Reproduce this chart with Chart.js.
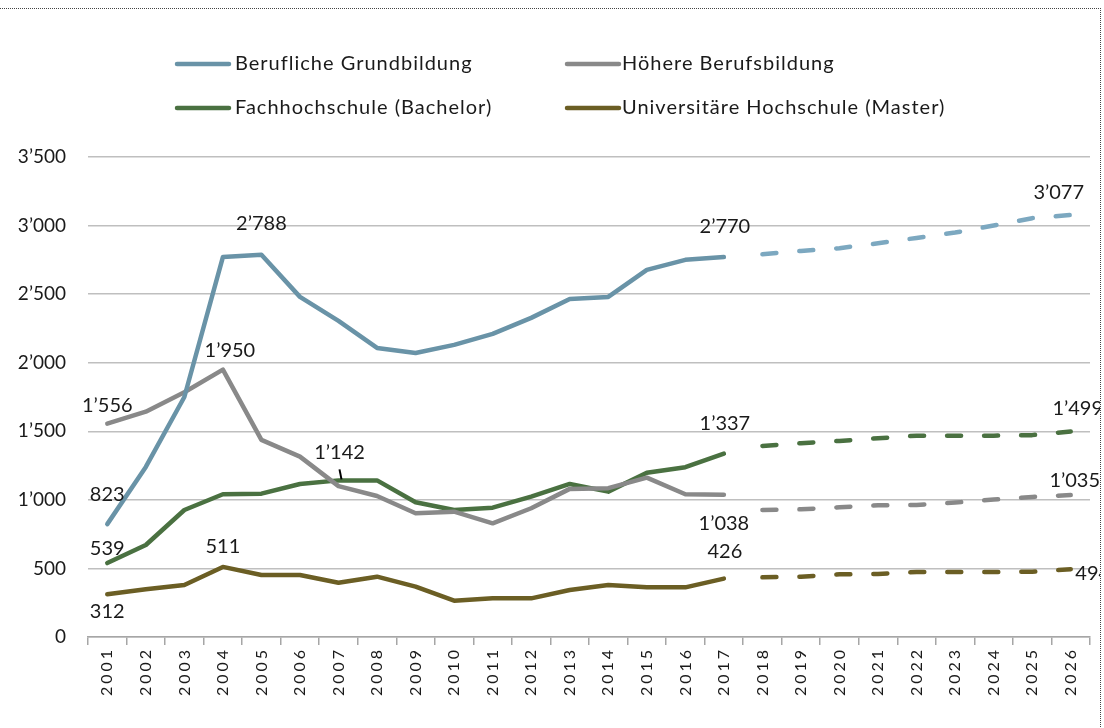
<!DOCTYPE html>
<html>
<head>
<meta charset="utf-8">
<script src="https://cdn.jsdelivr.net/npm/chart.js@4/dist/chart.umd.min.js"></script>
<style>
  html, body { margin: 0; padding: 0; background: #fff; overflow: hidden; }
  #wrap { position: absolute; left: 0; top: 0; width: 1104px; height: 728px; }
  #frame { position: absolute; left: -5px; top: 8px; width: 1105px; height: 760px;
           border-top: 1px dotted #444; border-right: 1px dotted #444; pointer-events: none; }
</style>
</head>
<body>
<div id="wrap"><canvas id="c" width="1104" height="728"></canvas></div>
<div id="frame"></div>
<script>
const years = ['2001','2002','2003','2004','2005','2006','2007','2008','2009','2010','2011','2012','2013',
               '2014','2015','2016','2017','2018','2019','2020','2021','2022','2023','2024','2025','2026'];

const seriesNames = ['Berufliche Grundbildung', 'Höhere Berufsbildung', 'Fachhochschule (Bachelor)', 'Universitäre Hochschule (Master)'];

const grundActual   = [823,1240,1750,2770,2788,2480,2305,2108,2071,2130,2210,2327,2465,2480,2677,2750,2770];
const grundForecast = [2791,2815,2835,2871,2910,2949,3000,3054,3077];

const hoehereActual   = [1556,1643,1785,1950,1437,1315,1100,1028,902,914,829,939,1080,1085,1162,1041,1038];
const hoehereForecast = [926,931,946,960,963,980,1002,1021,1035];

const fhActual   = [539,671,926,1041,1045,1116,1142,1142,982,926,943,1023,1116,1060,1198,1238,1337];
const fhForecast = [1393,1413,1430,1449,1468,1468,1468,1472,1499];

const uniActual   = [312,348,379,511,452,452,396,440,367,265,282,282,343,379,362,362,426];
const uniForecast = [435,440,457,460,474,474,474,476,494];

const yTicks = [0,500,1000,1500,2000,2500,3000,3500];

// labelled points: dataset index (actual = even, forecast = odd), year index
const labelPoints = [
  {ds:0, i:0}, {ds:0, i:4}, {ds:0, i:16}, {ds:1, i:25},
  {ds:2, i:0}, {ds:2, i:3}, {ds:2, i:16}, {ds:3, i:25},
  {ds:4, i:0}, {ds:4, i:6}, {ds:4, i:16}, {ds:5, i:25},
  {ds:6, i:0}, {ds:6, i:3}, {ds:6, i:16}, {ds:7, i:25}
];
// label offsets (style only)
const labelOffsets = [
  [0,-30],[0,-31],[1,-31],[-12,-22],
  [0,-18],[7,-19],[0,29],[4,-15],
  [0,-15],[1,-28],[1,-30],[7,-23],
  [0,17],[0,-20],[1,-27],[22,4]
];

const fmt = v => String(v).replace(/\B(?=(\d{3})+(?!\d))/g, '\u2019');
const pad = (arr, before, after) => Array(before).fill(null).concat(arr, Array(after).fill(null));

const colors = ['#6993A7', '#898989', '#4A7141', '#6B5E24'];
const fcColors = ['#7CA8C0', '#898989', '#4A7141', '#6B5E24'];
const actualData = [grundActual, hoehereActual, fhActual, uniActual];
const forecastData = [grundForecast, hoehereForecast, fhForecast, uniForecast];

const datasets = [];
for (let s = 0; s < 4; s++) {
  datasets.push({
    label: seriesNames[s],
    data: pad(actualData[s], 0, years.length - actualData[s].length),
    borderColor: colors[s], borderWidth: 4.5, pointRadius: 0, tension: 0,
    borderCapStyle: 'round', borderJoinStyle: 'round', spanGaps: false, fill: false
  });
  datasets.push({
    label: seriesNames[s] + ' (Prognose)',
    data: pad(forecastData[s], years.length - forecastData[s].length, 0),
    borderColor: fcColors[s], borderWidth: 4.5, pointRadius: 0, tension: 0,
    borderDash: [14, 23], borderCapStyle: 'round', borderJoinStyle: 'round', spanGaps: false, fill: false
  });
}

const FONT = 'Lato, "Open Sans", sans-serif';

const customLegend = {
  id: 'customLegend',
  afterDraw(chart) {
    const ctx = chart.ctx;
    const pos = [[175, 64, 60], [565, 64, 57], [175, 108, 60], [565, 108, 57]];
    ctx.save();
    ctx.letterSpacing = '1px';
    ctx.font = '20px ' + FONT;
    ctx.textBaseline = 'middle';
    ctx.textAlign = 'left';
    for (let s = 0; s < 4; s++) {
      const [x, y, tx] = pos[s];
      ctx.strokeStyle = colors[s];
      ctx.lineWidth = 4.5;
      ctx.lineCap = 'round';
      ctx.beginPath();
      ctx.moveTo(x + 2, y);
      ctx.lineTo(x + 54, y);
      ctx.stroke();
      ctx.fillStyle = '#1a1a1a';
      ctx.fillText(seriesNames[s], x + tx, y);
    }
    ctx.restore();
  }
};

const dataLabels = {
  id: 'dataLabels',
  afterDatasetsDraw(chart) {
    const ctx = chart.ctx;
    ctx.save();
    ctx.beginPath();
    ctx.rect(0, 0, 1100, 728);
    ctx.clip();
    ctx.font = '20px ' + FONT;
    ctx.fillStyle = '#1a1a1a';
    ctx.textAlign = 'center';
    ctx.textBaseline = 'middle';
    labelPoints.forEach((lp, k) => {
      const meta = chart.getDatasetMeta(lp.ds);
      const pt = meta.data[lp.i];
      const v = chart.data.datasets[lp.ds].data[lp.i];
      const [dx, dy] = labelOffsets[k];
      ctx.fillText(fmt(v), pt.x + dx, pt.y + dy);
    });
    // leader line for the 1'142 label
    const p = chart.getDatasetMeta(4).data[6];
    ctx.strokeStyle = '#000';
    ctx.lineWidth = 2;
    ctx.beginPath();
    ctx.moveTo(p.x + 1, p.y - 11);
    ctx.lineTo(p.x + 3, p.y - 1);
    ctx.stroke();
    ctx.restore();
    // x tick labels (drawn next, z=1) get the spaced look of the original
    ctx.letterSpacing = '3px';
  },
  afterDraw(chart) {
    chart.ctx.letterSpacing = '0px';
  }
};

new Chart(document.getElementById('c'), {
  type: 'line',
  data: { labels: years, datasets },
  options: {
    responsive: false,
    animation: false,
    devicePixelRatio: 1,
    layout: { padding: { top: 157, right: 14, left: 0, bottom: 0 } },
    plugins: { legend: { display: false }, tooltip: { enabled: false } },
    scales: {
      x: {
        type: 'category',
        offset: true,
        grid: { display: true, offset: true, drawOnChartArea: false, drawTicks: true, tickLength: 8, color: '#A6A6A6', lineWidth: 1.5 },
        border: { display: true, color: '#A6A6A6', width: 1.5 },
        ticks: { z: 1, minRotation: 90, maxRotation: 90, autoSkip: false, padding: 2, color: '#1a1a1a', font: { family: FONT, size: 16 } },
        afterFit(scale) { scale.height = 91; }
      },
      y: {
        min: 0, max: 3500,
        afterBuildTicks(scale) { scale.ticks = yTicks.map(v => ({ value: v })); },
        grid: { color: '#BFBFBF', lineWidth: 1.5, drawTicks: false },
        border: { display: false },
        ticks: { padding: 22, color: '#1a1a1a', font: { family: FONT, size: 19 }, callback: v => fmt(v) },
        afterFit(scale) { scale.width = 88; }
      }
    }
  },
  plugins: [customLegend, dataLabels]
});
</script>
</body>
</html>
